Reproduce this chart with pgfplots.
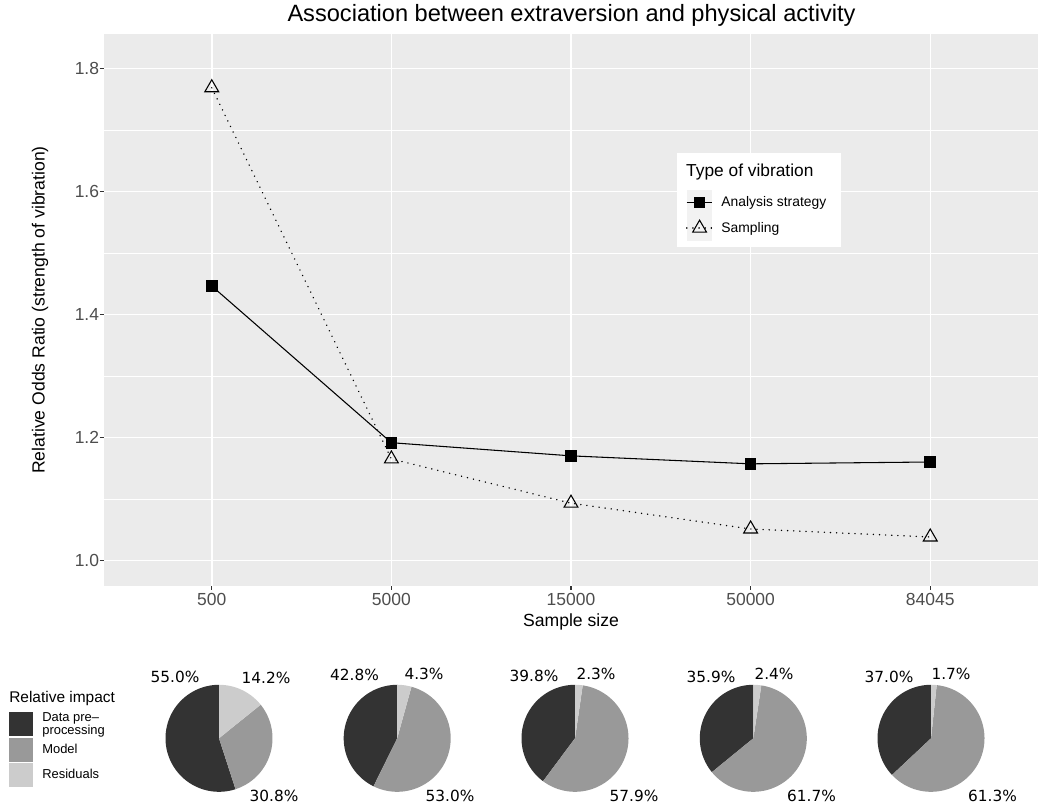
\documentclass[border=0pt]{standalone}
\usepackage{pgfplots}
\pgfplotsset{compat=1.18}
\usepackage{fontspec}
\setmainfont{Liberation Sans}
\newfontfamily\pief{DejaVu Sans}
\definecolor{ggbg}{HTML}{EBEBEB}
\definecolor{ggtick}{HTML}{4D4D4D}
\definecolor{ggtickmark}{HTML}{333333}
\definecolor{ggkey}{HTML}{F2F2F2}
\definecolor{pdark}{HTML}{333333}
\definecolor{pmid}{HTML}{999999}
\definecolor{plight}{HTML}{CCCCCC}

\newcommand\PX[1]{#1*0.75pt}
\newcommand\PY[1]{(807-#1)*0.75pt}

\pgfplotsset{
  vibkey/.style={legend image code/.code={
    \fill[ggkey, draw=none] (0pt,-9.62pt) rectangle (19.3pt,9.62pt);
    \draw[##1, mark repeat=2, mark phase=2] plot coordinates {(0pt,0pt) (9.65pt,0pt) (19.3pt,0pt)};
    \path[draw=none, fill=none] (0pt,0pt) -- (26.05pt,0pt);}},
  piekey/.style={legend image code/.code={
    \fill[##1] (0pt,-9.0pt) rectangle (17.8pt,9.0pt);
    \path[draw=none, fill=none] (0pt,-9.5pt) rectangle (25pt,9.5pt);}},
  pieax/.style={hide axis, scale only axis, width=80.25pt, height=80.25pt,
    xmin=-1, xmax=1, ymin=-1, ymax=1, anchor=center, clip=false, samples=120},
}

% #1 centre x (px), #2 data pre-processing, #3 model, #4 residuals, #5 extra options
\newcommand\piechart[5]{%
\begin{axis}[pieax, at={({\PX{#1}},{\PY{738.3}})}, #5]
\addplot[fill=pdark, draw=none, domain={90-3.6*(#4+#3+#2)}:{90-3.6*(#4+#3)}] ({cos(x)},{sin(x)}) -- (axis cs:0,0) -- cycle;
\addplot[fill=pmid, draw=none, domain={90-3.6*(#4+#3)}:{90-3.6*#4}] ({cos(x)},{sin(x)}) -- (axis cs:0,0) -- cycle;
\addplot[fill=plight, draw=none, domain={90-3.6*#4}:{90}] ({cos(x)},{sin(x)}) -- (axis cs:0,0) -- cycle;
\end{axis}}

\begin{document}
\begin{tikzpicture}
\path[use as bounding box] (0,0) rectangle (778.5pt,605.25pt);

% title
\node[anchor=base, inner sep=0pt, font=\fontsize{17.7}{20}\selectfont] at ({\PX{571.5}},{\PY{21.7}}) {Association between extraversion and physical activity};

\begin{axis}[
  at={({\PX{104}},{\PY{585.7}})}, anchor=south west,
  width=700.5pt, height=413.55pt, scale only axis,
  xmin=0.4, xmax=5.6, ymin=0.9587, ymax=1.856,
  xtick={1,2,3,4,5}, xticklabels={500,5000,15000,50000,84045},
  ytick={1.0,1.2,1.4,1.6,1.8}, yticklabels={1.0,1.2,1.4,1.6,1.8},
  minor ytick={1.1,1.3,1.5,1.7},
  xmajorgrids, ymajorgrids, yminorgrids,
  major grid style={white, line width=1.1pt},
  minor grid style={white, line width=0.55pt},
  axis background/.style={fill=ggbg},
  axis line style={draw=none},
  tick align=outside, tick pos=left,
  major tick length=3.2pt, minor tick length=0pt,
  tick style={ggtickmark, line width=0.8pt},
  xticklabel style={font=\fontsize{13.1}{15}\selectfont, text=ggtick, inner sep=0pt, anchor=north, yshift=-2pt},
  yticklabel style={font=\fontsize{13.1}{15}\selectfont, text=ggtick, inner sep=0pt, anchor=east, xshift=-0.3pt},
  xlabel={Sample size},
  ylabel={Relative Odds Ratio (strength of vibration)},
  every axis x label/.style={at={(axis description cs:0.5,-0.0731)}, anchor=base, inner sep=0pt, font=\fontsize{13.2}{15}\selectfont},
  every axis y label/.style={at={(axis description cs:-0.06852,0.5)}, rotate=90, anchor=center, inner sep=0pt, font=\fontsize{13.2}{15}\selectfont},
  legend cell align=left,
  legend style={at={(axis description cs:0.62313,0.7182)}, anchor=north west, draw=none, fill=none,
    inner sep=0pt, outer sep=0pt, row sep=0pt, column sep=0pt,
    font=\fontsize{10.4}{12}\selectfont, nodes={inner sep=0pt, align=left}},
]
\fill[white] (axis description cs:0.6135,0.6148) rectangle (axis description cs:0.7888,0.7853);
\node[anchor=base west, inner sep=0pt, font=\fontsize{13}{15}\selectfont] at (axis description cs:0.6231,0.7430) {Type of vibration};

\addplot[black, line width=0.8pt, mark=square*, mark size=4pt, mark options={solid}, vibkey]
  coordinates {(1,1.4464) (2,1.1914) (3,1.170) (4,1.157) (5,1.160)};
\addlegendentry{Analysis strategy}
\addplot[black, line width=1.1pt, line cap=round, dash pattern=on 0.1pt off 4.5pt, mark=triangle, mark size=6pt,
  mark options={solid, line width=0.8pt, line cap=butt}, vibkey]
  coordinates {(1,1.769) (2,1.165) (3,1.093) (4,1.051) (5,1.038)};
\addlegendentry{Sampling}
\end{axis}

% pies
\piechart{219}{55.0}{30.8}{14.2}{piekey,
  legend entries={{Data pre–\\processing},Model,Residuals},
  legend cell align=left,
  legend style={at={(axis description cs:-1.4626,0.7495)}, anchor=north west, draw=none, fill=none,
    inner sep=0pt, outer sep=0pt, row sep=0pt, column sep=0pt,
    font=\fontsize{9.7}{8.8}\selectfont, nodes={inner sep=0pt, align=left}}}
\piechart{397.2}{42.8}{53.0}{4.3}{}
\piechart{575}{39.8}{57.9}{2.3}{}
\piechart{753.3}{35.9}{61.7}{2.4}{}
\piechart{931}{37.0}{61.3}{1.7}{}

\node[anchor=base west, inner sep=0pt, font=\fontsize{11.6}{14}\selectfont] at ({\PX{9}},{\PY{702.7}}) {Relative impact};

\begin{scope}[every node/.style={anchor=base, inner sep=0pt, font=\pief\fontsize{11.5}{13}\selectfont}]
\node at ({\PX{175}},{\PY{682.7}}) {55.0\%};
\node at ({\PX{266}},{\PY{683.3}}) {14.2\%};
\node at ({\PX{274}},{\PY{801}}) {30.8\%};
\node at ({\PX{354.5}},{\PY{680.7}}) {42.8\%};
\node at ({\PX{424}},{\PY{679.5}}) {4.3\%};
\node at ({\PX{450}},{\PY{801.5}}) {53.0\%};
\node at ({\PX{534}},{\PY{681}}) {39.8\%};
\node at ({\PX{596}},{\PY{679}}) {2.3\%};
\node at ({\PX{634}},{\PY{801.5}}) {57.9\%};
\node at ({\PX{711}},{\PY{682.3}}) {35.9\%};
\node at ({\PX{774}},{\PY{679.3}}) {2.4\%};
\node at ({\PX{811.5}},{\PY{801.5}}) {61.7\%};
\node at ({\PX{889}},{\PY{682.7}}) {37.0\%};
\node at ({\PX{951}},{\PY{679}}) {1.7\%};
\node at ({\PX{992.5}},{\PY{801.5}}) {61.3\%};
\end{scope}
\end{tikzpicture}
\end{document}
